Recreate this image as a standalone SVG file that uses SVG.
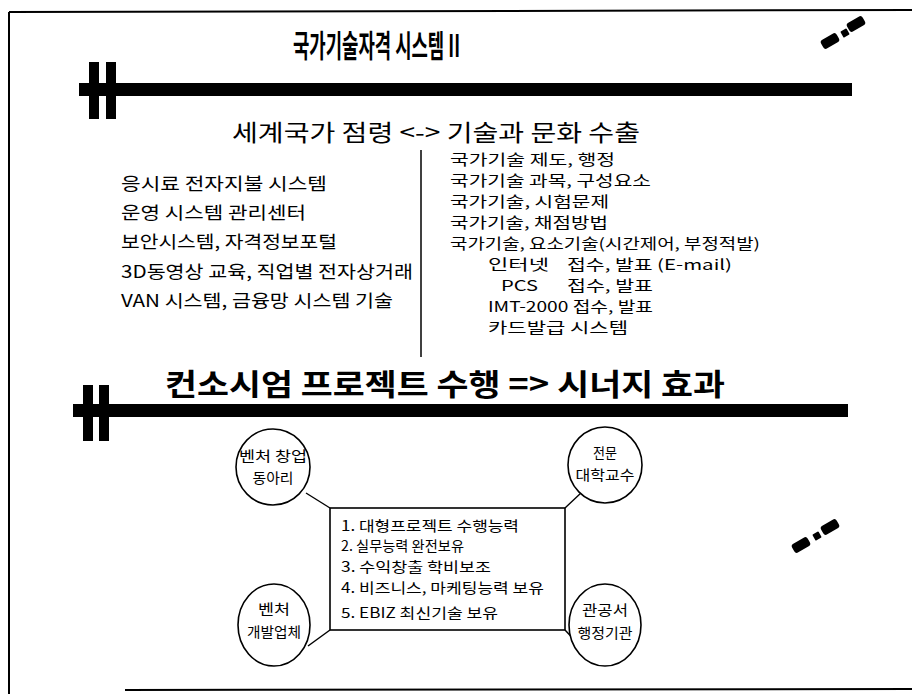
<svg xmlns="http://www.w3.org/2000/svg" width="912" height="694" viewBox="0 0 912 694">
<style>
.t{font-family:"Noto Sans CJK KR","Noto Sans",sans-serif;fill:#000}
.l{font-size:17.5px}
.r{font-size:14.5px}
.b{font-size:14px}
.c{font-size:14px;text-anchor:middle}
.node{fill:#fff;stroke:#000;stroke-width:1.6}
.conn{stroke:#000;stroke-width:1.4;fill:none}
.frame{stroke:#000;stroke-width:2;fill:none}
</style>
<rect width="912" height="694" fill="#fff"/>
<g id="frame">
<line class="frame" x1="9" y1="12" x2="912" y2="10"/>
<line class="frame" x1="9" y1="12" x2="9" y2="694"/>
<line class="frame" x1="125" y1="690" x2="912" y2="689"/>
</g>
<g id="title">
<text class="t" x="293" y="57" font-size="31" font-weight="bold" textLength="167" lengthAdjust="spacingAndGlyphs">국가기술자격 시스템 II</text>
</g>
<g id="deco">
<rect x="-9" y="-5" width="18" height="10" rx="3" transform="translate(830,41) rotate(-30)"/>
<rect x="-3.5" y="-3.5" width="7" height="7" rx="1" transform="translate(845,33) rotate(-30)"/>
<rect x="-9" y="-5" width="18" height="10" rx="3" transform="translate(856,24) rotate(-30)"/>
<rect x="-9" y="-5" width="18" height="10" rx="3" transform="translate(801,545) rotate(-30)"/>
<rect x="-3.5" y="-3.5" width="7" height="7" rx="1" transform="translate(817,536) rotate(-30)"/>
<rect x="-9" y="-5" width="18" height="10" rx="3" transform="translate(830,527) rotate(-30)"/>
</g>
<g id="bar1">
<rect x="79" y="83" width="773" height="13"/>
<rect x="89" y="62" width="10" height="57"/>
<rect x="106" y="62" width="10" height="57"/>
</g>
<g id="heading1">
<text class="t" x="232" y="141" font-size="23" textLength="408" lengthAdjust="spacingAndGlyphs">세계국가 점령 &lt;-&gt; 기술과 문화 수출</text>
</g>
<g id="leftlist" class="t l">
<text x="121" y="190" textLength="206" lengthAdjust="spacingAndGlyphs">응시료 전자지불 시스템</text>
<text x="121" y="219" textLength="185" lengthAdjust="spacingAndGlyphs">운영 시스템 관리센터</text>
<text x="121" y="248" textLength="216" lengthAdjust="spacingAndGlyphs">보안시스템, 자격정보포털</text>
<text x="121" y="278" textLength="292" lengthAdjust="spacingAndGlyphs">3D동영상 교육, 직업별 전자상거래</text>
<text x="121" y="307" textLength="272" lengthAdjust="spacingAndGlyphs">VAN 시스템, 금융망 시스템 기술</text>
</g>
<line id="divider" x1="421" y1="150" x2="421" y2="357" stroke="#000" stroke-width="1.5"/>
<g id="rightlist" class="t r">
<text x="450" y="165" textLength="165" lengthAdjust="spacingAndGlyphs">국가기술 제도, 행정</text>
<text x="450" y="186" textLength="201" lengthAdjust="spacingAndGlyphs">국가기술 과목, 구성요소</text>
<text x="450" y="207" textLength="159" lengthAdjust="spacingAndGlyphs">국가기술, 시험문제</text>
<text x="450" y="228" textLength="158" lengthAdjust="spacingAndGlyphs">국가기술, 채점방법</text>
<text x="450" y="249" textLength="310" lengthAdjust="spacingAndGlyphs">국가기술, 요소기술(시간제어, 부정적발)</text>
<text x="488" y="270" textLength="61" lengthAdjust="spacingAndGlyphs">인터넷</text>
<text x="567" y="270" textLength="165" lengthAdjust="spacingAndGlyphs">접수, 발표 (E-mail)</text>
<text x="501" y="291" textLength="37" lengthAdjust="spacingAndGlyphs">PCS</text>
<text x="567" y="291" textLength="86" lengthAdjust="spacingAndGlyphs">접수, 발표</text>
<text x="488" y="312" textLength="165" lengthAdjust="spacingAndGlyphs">IMT-2000 접수, 발표</text>
<text x="488" y="333" textLength="140" lengthAdjust="spacingAndGlyphs">카드발급 시스템</text>
</g>
<g id="heading2">
<text class="t" x="165" y="395" font-size="30" font-weight="bold" textLength="560" lengthAdjust="spacingAndGlyphs">컨소시엄 프로젝트 수행 =&gt; 시너지 효과</text>
</g>
<g id="bar2">
<rect x="73" y="404" width="775" height="13"/>
<rect x="83" y="385" width="10" height="56"/>
<rect x="99" y="385" width="10" height="56"/>
</g>
<g id="connectors" class="conn">
<line x1="306" y1="493" x2="330" y2="508"/>
<line x1="582" y1="492" x2="565" y2="508"/>
<line x1="330" y1="630" x2="308" y2="646"/>
<line x1="565" y1="630" x2="580" y2="646"/>
</g>
<g id="center">
<rect class="node" x="330" y="508" width="235" height="122"/>
<g class="t b">
<text x="341" y="531" textLength="178" lengthAdjust="spacingAndGlyphs">1. 대형프로젝트 수행능력</text>
<text x="341" y="551" textLength="123" lengthAdjust="spacingAndGlyphs">2. 실무능력 완전보유</text>
<text x="341" y="572" textLength="150" lengthAdjust="spacingAndGlyphs">3. 수익창출 학비보조</text>
<text x="341" y="593" textLength="203" lengthAdjust="spacingAndGlyphs">4. 비즈니스, 마케팅능력 보유</text>
<text x="341" y="618" textLength="157" lengthAdjust="spacingAndGlyphs">5. EBIZ 최신기술 보유</text>
</g>
</g>
<g id="n_tl">
<ellipse class="node" cx="273" cy="467" rx="37" ry="38"/>
<text class="t c" x="273" y="461" textLength="68" lengthAdjust="spacingAndGlyphs">벤처 창업</text>
<text class="t c" x="273" y="483" textLength="41" lengthAdjust="spacingAndGlyphs">동아리</text>
</g>
<g id="n_tr">
<ellipse class="node" cx="605" cy="465" rx="37" ry="38"/>
<text class="t c" x="605" y="458" textLength="24" lengthAdjust="spacingAndGlyphs">전문</text>
<text class="t c" x="605" y="480" textLength="59" lengthAdjust="spacingAndGlyphs">대학교수</text>
</g>
<g id="n_bl">
<ellipse class="node" cx="274" cy="625" rx="36" ry="41"/>
<text class="t c" x="274" y="614" textLength="32" lengthAdjust="spacingAndGlyphs">벤처</text>
<text class="t c" x="274" y="637" textLength="54" lengthAdjust="spacingAndGlyphs">개발업체</text>
</g>
<g id="n_br">
<ellipse class="node" cx="605" cy="625" rx="36" ry="41"/>
<text class="t c" x="605" y="615" textLength="46" lengthAdjust="spacingAndGlyphs">관공서</text>
<text class="t c" x="605" y="638" textLength="55" lengthAdjust="spacingAndGlyphs">행정기관</text>
</g>
</svg>
